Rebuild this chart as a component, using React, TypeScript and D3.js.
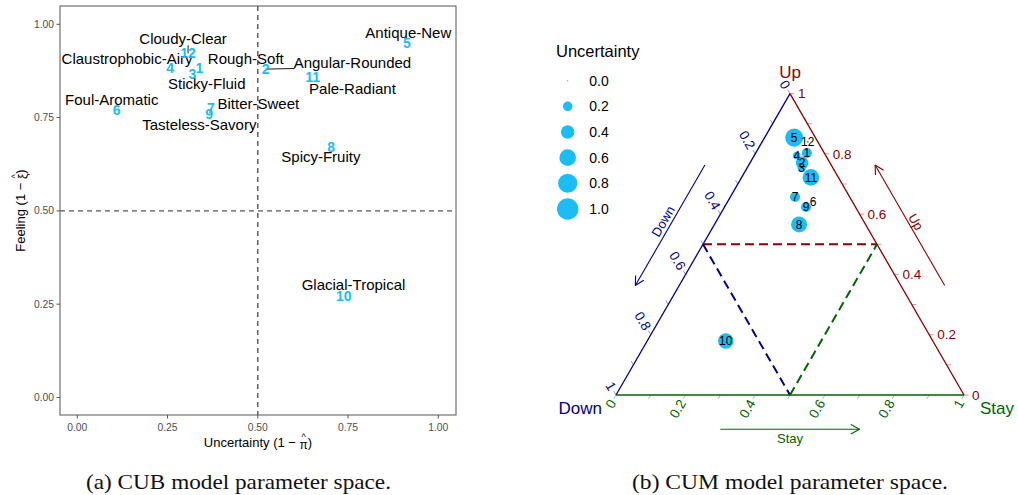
import React, { useEffect, useRef } from "react";
import * as d3 from "d3";

// ---- CUB model: uncertainty (1 - pi) vs feeling (1 - xi) per item ----
const itemIds = [1, 2, 3, 4, 5, 6, 7, 8, 9, 10, 11, 12];
const itemNames = [
  "Rough-Soft",
  "Angular-Rounded",
  "Sticky-Fluid",
  "Claustrophobic-Airy",
  "Antique-New",
  "Foul-Aromatic",
  "Bitter-Sweet",
  "Spicy-Fruity",
  "Tasteless-Savory",
  "Glacial-Tropical",
  "Pale-Radiant",
  "Cloudy-Clear",
];
const cubUncertainty = [0.338, 0.522, 0.319, 0.257, 0.913, 0.109, 0.37, 0.703, 0.365, 0.738, 0.652, 0.307];
const cubFeeling = [0.882, 0.88, 0.867, 0.884, 0.949, 0.77, 0.777, 0.672, 0.761, 0.272, 0.858, 0.922];

// repelled label placement (pixel offset of the name from its point) and leader-line flag
const labelNudge: [number, number][] = [
  [46.5, -9.6],
  [86.7, -6.8],
  [14.3, 10.3],
  [-43, -8.9],
  [1.4, -10.6],
  [-4.9, -10.8],
  [47.5, -3.8],
  [-10.2, 10.1],
  [-9.7, 10.9],
  [9.8, -10.8],
  [39.8, 11],
  [-5, -14.4],
];
const leaderLine = [false, true, false, false, false, false, false, false, false, false, false, true];

const cubTicks = [0, 0.25, 0.5, 0.75, 1];

// ---- CUM model: compositional (Up, Stay, Down) per item, plus uncertainty ----
const cumUp = [0.803, 0.77, 0.753, 0.795, 0.854, 0.643, 0.657, 0.566, 0.624, 0.179, 0.722, 0.84];
const cumStay = [0.147, 0.15, 0.157, 0.122, 0.085, 0.245, 0.186, 0.243, 0.234, 0.226, 0.199, 0.131];
const cumDown = [0.05, 0.08, 0.09, 0.083, 0.061, 0.112, 0.157, 0.191, 0.142, 0.595, 0.079, 0.029];
const cumUncertainty = [0.22, 0.35, 0.14, 0.12, 0.71, 0.01, 0.22, 0.56, 0.22, 0.52, 0.6, 0.01];

const ternaryMinorTicks = [0, 0.1, 0.2, 0.3, 0.4, 0.5, 0.6, 0.7, 0.8, 0.9, 1];
const ternaryLabelTicks = [0, 0.2, 0.4, 0.6, 0.8, 1];
const legendValues = [0, 0.2, 0.4, 0.6, 0.8, 1];

const W = 1018;
const H = 495;
const SANS = "'Liberation Sans', Arial, sans-serif";
const SERIF = "'Liberation Serif', 'Times New Roman', serif";
const POINT_BLUE = "#1cbcf4";
const DOWN_COL = "#00008b";
const UP_COL = "#8b0000";
const STAY_COL = "#006400";

type Sel = d3.Selection<SVGGElement, unknown, null, undefined>;

// axis title of the form "<prefix><symbol>)" with a hat drawn over the symbol
function hatTitle(g: Sel, prefix: string, symbol: string, suffix: string) {
  const t = g
    .append("text")
    .attr("x", 0)
    .attr("y", 0)
    .attr("text-anchor", "middle")
    .attr("font-family", SANS)
    .attr("font-size", 13)
    .attr("fill", "black");
  t.append("tspan").text(prefix);
  t.append("tspan").attr("font-size", 12).attr("dy", 1.5).text(symbol);
  t.append("tspan").attr("dy", -1.5).text(suffix);
  const node = t.node() as SVGTextElement;
  const idx = prefix.length;
  const a = node.getStartPositionOfChar(idx).x;
  const b = node.getEndPositionOfChar(idx).x;
  g.append("text")
    .attr("x", (a + b) / 2)
    .attr("y", -7)
    .attr("text-anchor", "middle")
    .attr("font-family", SANS)
    .attr("font-size", 9)
    .attr("fill", "black")
    .text("^");
}

export default function App() {
  const ref = useRef<SVGSVGElement | null>(null);

  useEffect(() => {
    const svg = d3.select(ref.current);
    svg.selectAll("*").remove();

    // ================= (a) CUB panel =================
    const panel = { x0: 60, x1: 456, y0: 6, y1: 415 };
    const x = d3.scaleLinear().domain([-0.0478, 1.049]).range([panel.x0, panel.x1]);
    const y = d3.scaleLinear().domain([-0.047, 1.049]).range([panel.y1, panel.y0]);

    const left = svg.append("g");
    left
      .append("rect")
      .attr("x", panel.x0)
      .attr("y", panel.y0)
      .attr("width", panel.x1 - panel.x0)
      .attr("height", panel.y1 - panel.y0)
      .attr("fill", "white")
      .attr("stroke", "#555")
      .attr("stroke-width", 1);

    cubTicks.forEach((t) => {
      left
        .append("line")
        .attr("x1", panel.x0 - 3.5)
        .attr("x2", panel.x0)
        .attr("y1", y(t))
        .attr("y2", y(t))
        .attr("stroke", "#555");
      left
        .append("text")
        .attr("x", panel.x0 - 6)
        .attr("y", y(t))
        .attr("dy", "0.35em")
        .attr("text-anchor", "end")
        .attr("font-family", SANS)
        .attr("font-size", 10.3)
        .attr("fill", "#4d4d4d")
        .text(d3.format(".2f")(t));
      left
        .append("line")
        .attr("x1", x(t))
        .attr("x2", x(t))
        .attr("y1", panel.y1)
        .attr("y2", panel.y1 + 3.5)
        .attr("stroke", "#555");
      left
        .append("text")
        .attr("x", x(t))
        .attr("y", panel.y1 + 12)
        .attr("dy", "0.35em")
        .attr("text-anchor", "middle")
        .attr("font-family", SANS)
        .attr("font-size", 10.3)
        .attr("fill", "#4d4d4d")
        .text(d3.format(".2f")(t));
    });

    const xTitle = left.append("g").attr("transform", `translate(${(panel.x0 + panel.x1) / 2},447)`);
    hatTitle(xTitle as unknown as Sel, "Uncertainty (1 \u2212 ", "\u03c0", ")");
    const yTitle = left
      .append("g")
      .attr("transform", `translate(25,${(panel.y0 + panel.y1) / 2}) rotate(-90)`);
    hatTitle(yTitle as unknown as Sel, "Feeling (1 \u2212 ", "\u03be", ")");

    // reference lines at 0.5
    left
      .append("line")
      .attr("x1", x(0.5))
      .attr("x2", x(0.5))
      .attr("y1", panel.y0)
      .attr("y2", panel.y1)
      .attr("stroke", "#555")
      .attr("stroke-width", 1.4)
      .attr("stroke-dasharray", "5,4");
    left
      .append("line")
      .attr("x1", panel.x0)
      .attr("x2", panel.x1)
      .attr("y1", y(0.5))
      .attr("y2", y(0.5))
      .attr("stroke", "#555")
      .attr("stroke-width", 1.4)
      .attr("stroke-dasharray", "5,4");

    // item names (repelled) with leader lines
    const names = left.append("g");
    const leaders = left.append("g");
    itemIds.forEach((id, i) => {
      const px = x(cubUncertainty[i]);
      const py = y(cubFeeling[i]);
      const [dx, dy] = labelNudge[i];
      const t = names
        .append("text")
        .attr("x", px + dx)
        .attr("y", py + dy)
        .attr("dy", "0.35em")
        .attr("text-anchor", "middle")
        .attr("font-family", SANS)
        .attr("font-size", 15)
        .attr("fill", "black")
        .text(itemNames[i]);
      if (leaderLine[i]) {
        const bb = (t.node() as SVGTextElement).getBBox();
        const bx0 = bb.x + 1;
        const bx1 = bb.x + bb.width - 1;
        const by0 = bb.y + 3;
        const by1 = bb.y + bb.height - 2;
        const ex = Math.max(bx0, Math.min(bx1, px));
        const ey = Math.max(by0, Math.min(by1, py));
        leaders
          .append("line")
          .attr("x1", ex)
          .attr("y1", ey)
          .attr("x2", px)
          .attr("y2", py)
          .attr("stroke", "black")
          .attr("stroke-width", 0.9);
      }
    });
    itemIds.forEach((id, i) => {
      left
        .append("text")
        .attr("x", x(cubUncertainty[i]))
        .attr("y", y(cubFeeling[i]))
        .attr("dy", "0.36em")
        .attr("text-anchor", "middle")
        .attr("font-family", SANS)
        .attr("font-weight", "bold")
        .attr("font-size", 14)
        .attr("fill", POINT_BLUE)
        .text(String(id));
    });

    // ================= (b) CUM ternary panel =================
    const side = 348;
    const origin = { x: 616, y: 395 }; // bottom-left vertex (Down)
    const s = d3.scaleLinear().domain([0, 1]).range([0, side]);
    const h = Math.sqrt(3) / 2;
    const tern = (up: number, stay: number): [number, number] => [
      origin.x + s(stay + up / 2),
      origin.y - s(up) * h,
    ];

    const right = svg.append("g");
    const vTop = tern(1, 0);
    const vDown = tern(0, 0);
    const vStay = tern(0, 1);

    const seg = (a: [number, number], b: [number, number], col: string, w: number, dash?: string) => {
      const l = right
        .append("line")
        .attr("x1", a[0])
        .attr("y1", a[1])
        .attr("x2", b[0])
        .attr("y2", b[1])
        .attr("stroke", col)
        .attr("stroke-width", w);
      if (dash) l.attr("stroke-dasharray", dash);
      return l;
    };

    const tickLen = 4.5;
    const dirLeft: [number, number] = [-0.5, -h];
    const dirBottom: [number, number] = [-0.5, h];
    const dirRight: [number, number] = [1, 0];
    ternaryMinorTicks.forEach((t) => {
      const pl = tern(1 - t, 0);
      seg(pl, [pl[0] + dirLeft[0] * tickLen, pl[1] + dirLeft[1] * tickLen], DOWN_COL, 1).attr("opacity", 0.4);
      const pb = tern(0, t);
      seg(pb, [pb[0] + dirBottom[0] * tickLen, pb[1] + dirBottom[1] * tickLen], STAY_COL, 1).attr("opacity", 0.4);
      const pr = tern(t, 1 - t);
      seg(pr, [pr[0] + dirRight[0] * tickLen, pr[1] + dirRight[1] * tickLen], UP_COL, 1).attr("opacity", 0.4);
    });

    // triangle edges
    seg(vTop, vDown, DOWN_COL, 1.3);
    seg(vDown, vStay, STAY_COL, 1.3);
    seg(vStay, vTop, UP_COL, 1.3);

    const tickFont = 13.5;
    ternaryLabelTicks.forEach((t) => {
      const lbl = d3.format("")(t);
      const pl = tern(1 - t, 0);
      const ql = [pl[0] + dirLeft[0] * 6.5, pl[1] + dirLeft[1] * 6.5];
      right
        .append("text")
        .attr("transform", `translate(${ql[0]},${ql[1]}) rotate(60)`)
        .attr("text-anchor", "end")
        .attr("dy", "0.35em")
        .attr("font-family", SANS)
        .attr("font-size", tickFont)
        .attr("fill", DOWN_COL)
        .text(lbl);
      const pb = tern(0, t);
      const qb = [pb[0] + dirBottom[0] * 6.5, pb[1] + dirBottom[1] * 6.5];
      right
        .append("text")
        .attr("transform", `translate(${qb[0]},${qb[1]}) rotate(-60)`)
        .attr("text-anchor", "end")
        .attr("dy", "0.35em")
        .attr("font-family", SANS)
        .attr("font-size", tickFont)
        .attr("fill", STAY_COL)
        .text(lbl);
      const pr = tern(t, 1 - t);
      right
        .append("text")
        .attr("x", pr[0] + 8)
        .attr("y", pr[1])
        .attr("dy", "0.35em")
        .attr("text-anchor", "start")
        .attr("font-family", SANS)
        .attr("font-size", tickFont)
        .attr("fill", UP_COL)
        .text(lbl);
    });

    // 0.5 reference lines for each component
    seg(tern(0.5, 0), tern(0.5, 0.5), UP_COL, 2, "9,5");
    seg(tern(0.5, 0), tern(0, 0.5), DOWN_COL, 2, "9,5");
    seg(tern(0, 0.5), tern(0.5, 0.5), STAY_COL, 2, "9,5");

    // corner titles
    right
      .append("text")
      .attr("x", vTop[0])
      .attr("y", vTop[1] - 22)
      .attr("dy", "0.35em")
      .attr("text-anchor", "middle")
      .attr("font-family", SANS)
      .attr("font-size", 17)
      .attr("fill", UP_COL)
      .text("Up");
    right
      .append("text")
      .attr("x", vDown[0] - 14)
      .attr("y", vDown[1] + 13)
      .attr("dy", "0.35em")
      .attr("text-anchor", "end")
      .attr("font-family", SANS)
      .attr("font-size", 17)
      .attr("fill", DOWN_COL)
      .text("Down");
    right
      .append("text")
      .attr("x", vStay[0] + 16)
      .attr("y", vStay[1] + 13)
      .attr("dy", "0.35em")
      .attr("text-anchor", "start")
      .attr("font-family", SANS)
      .attr("font-size", 17)
      .attr("fill", STAY_COL)
      .text("Stay");

    // direction arrows along each axis
    const arrow = (a: [number, number], b: [number, number], col: string) => {
      seg(a, b, col, 1.1);
      const ang = Math.atan2(b[1] - a[1], b[0] - a[0]);
      const len = 10;
      const spread = (28 * Math.PI) / 180;
      [ang + Math.PI - spread, ang + Math.PI + spread].forEach((q) => {
        seg(b, [b[0] + Math.cos(q) * len, b[1] + Math.sin(q) * len], col, 1.1);
      });
    };
    const off = 38;
    const nLeft: [number, number] = [-h, -0.5];
    const nRight: [number, number] = [h, -0.5];
    const shift = (p: [number, number], n: [number, number], d: number): [number, number] => [
      p[0] + n[0] * d,
      p[1] + n[1] * d,
    ];
    const dA = shift(tern(0.7, 0), nLeft, off);
    const dB = shift(tern(0.3, 0), nLeft, off);
    arrow(dA, dB, DOWN_COL);
    const dMid = shift(tern(0.5, 0), nLeft, off + 8);
    right
      .append("text")
      .attr("transform", `translate(${dMid[0]},${dMid[1]}) rotate(-60)`)
      .attr("text-anchor", "middle")
      .attr("dy", "0.35em")
      .attr("font-family", SANS)
      .attr("font-size", 13)
      .attr("fill", DOWN_COL)
      .text("Down");
    const uA = shift(tern(0.3, 0.7), nRight, off);
    const uB = shift(tern(0.7, 0.3), nRight, off);
    arrow(uA, uB, UP_COL);
    const uMid = shift(tern(0.5, 0.5), nRight, off + 7);
    right
      .append("text")
      .attr("transform", `translate(${uMid[0]},${uMid[1]}) rotate(60)`)
      .attr("text-anchor", "middle")
      .attr("dy", "0.35em")
      .attr("font-family", SANS)
      .attr("font-size", 13)
      .attr("fill", UP_COL)
      .text("Up");
    const sA = shift(tern(0, 0.3), [0, 1], 34.3);
    const sB = shift(tern(0, 0.7), [0, 1], 34.3);
    arrow(sA, sB, STAY_COL);
    const sMid = shift(tern(0, 0.5), [0, 1], 43.5);
    right
      .append("text")
      .attr("x", sMid[0])
      .attr("y", sMid[1])
      .attr("dy", "0.35em")
      .attr("text-anchor", "middle")
      .attr("font-family", SANS)
      .attr("font-size", 13)
      .attr("fill", STAY_COL)
      .text("Stay");

    // points sized by uncertainty
    const r = d3.scaleSqrt().domain([0, 1]).range([0, 10.7]);
    const pts = itemIds.map((id, i) => ({ id, p: tern(cumUp[i], cumStay[i]), u: cumUncertainty[i], down: cumDown[i] }));
    pts.forEach((d) => {
      right
        .append("circle")
        .attr("cx", d.p[0])
        .attr("cy", d.p[1])
        .attr("r", Math.max(0.6, r(d.u)))
        .attr("fill", POINT_BLUE);
    });
    pts.forEach((d) => {
      right
        .append("text")
        .attr("x", d.p[0])
        .attr("y", d.p[1])
        .attr("dy", "0.36em")
        .attr("text-anchor", "middle")
        .attr("font-family", SANS)
        .attr("font-size", 12)
        .attr("fill", "black")
        .text(String(d.id));
    });

    // size legend
    const legend = svg.append("g");
    legend
      .append("text")
      .attr("x", 556)
      .attr("y", 56.5)
      .attr("font-family", SANS)
      .attr("font-size", 16.5)
      .attr("fill", "black")
      .text("Uncertainty");
    legendValues.forEach((v, i) => {
      const cy = 80.7 + i * 25.65;
      legend
        .append("circle")
        .attr("cx", 567.7)
        .attr("cy", cy)
        .attr("r", Math.max(0.6, r(v)))
        .attr("fill", POINT_BLUE);
      legend
        .append("text")
        .attr("x", 589.3)
        .attr("y", cy)
        .attr("dy", "0.35em")
        .attr("font-family", SANS)
        .attr("font-size", 14)
        .attr("fill", "black")
        .text(d3.format(".1f")(v));
    });

    // captions
    const cap = svg.append("g");
    [
      { cx: 238.5, len: 305, text: "(a) CUB model parameter space." },
      { cx: 790, len: 316, text: "(b) CUM model parameter space." },
    ].forEach((c) => {
      cap
        .append("text")
        .attr("x", c.cx)
        .attr("y", 489)
        .attr("text-anchor", "middle")
        .attr("font-family", SERIF)
        .attr("font-size", 21)
        .attr("textLength", c.len)
        .attr("lengthAdjust", "spacingAndGlyphs")
        .attr("fill", "#111")
        .text(c.text);
    });
  }, []);

  return (
    <svg
      ref={ref}
      width={W}
      height={H}
      viewBox={`0 0 ${W} ${H}`}
      style={{ position: "absolute", left: 0, top: 0, background: "white" }}
    />
  );
}
